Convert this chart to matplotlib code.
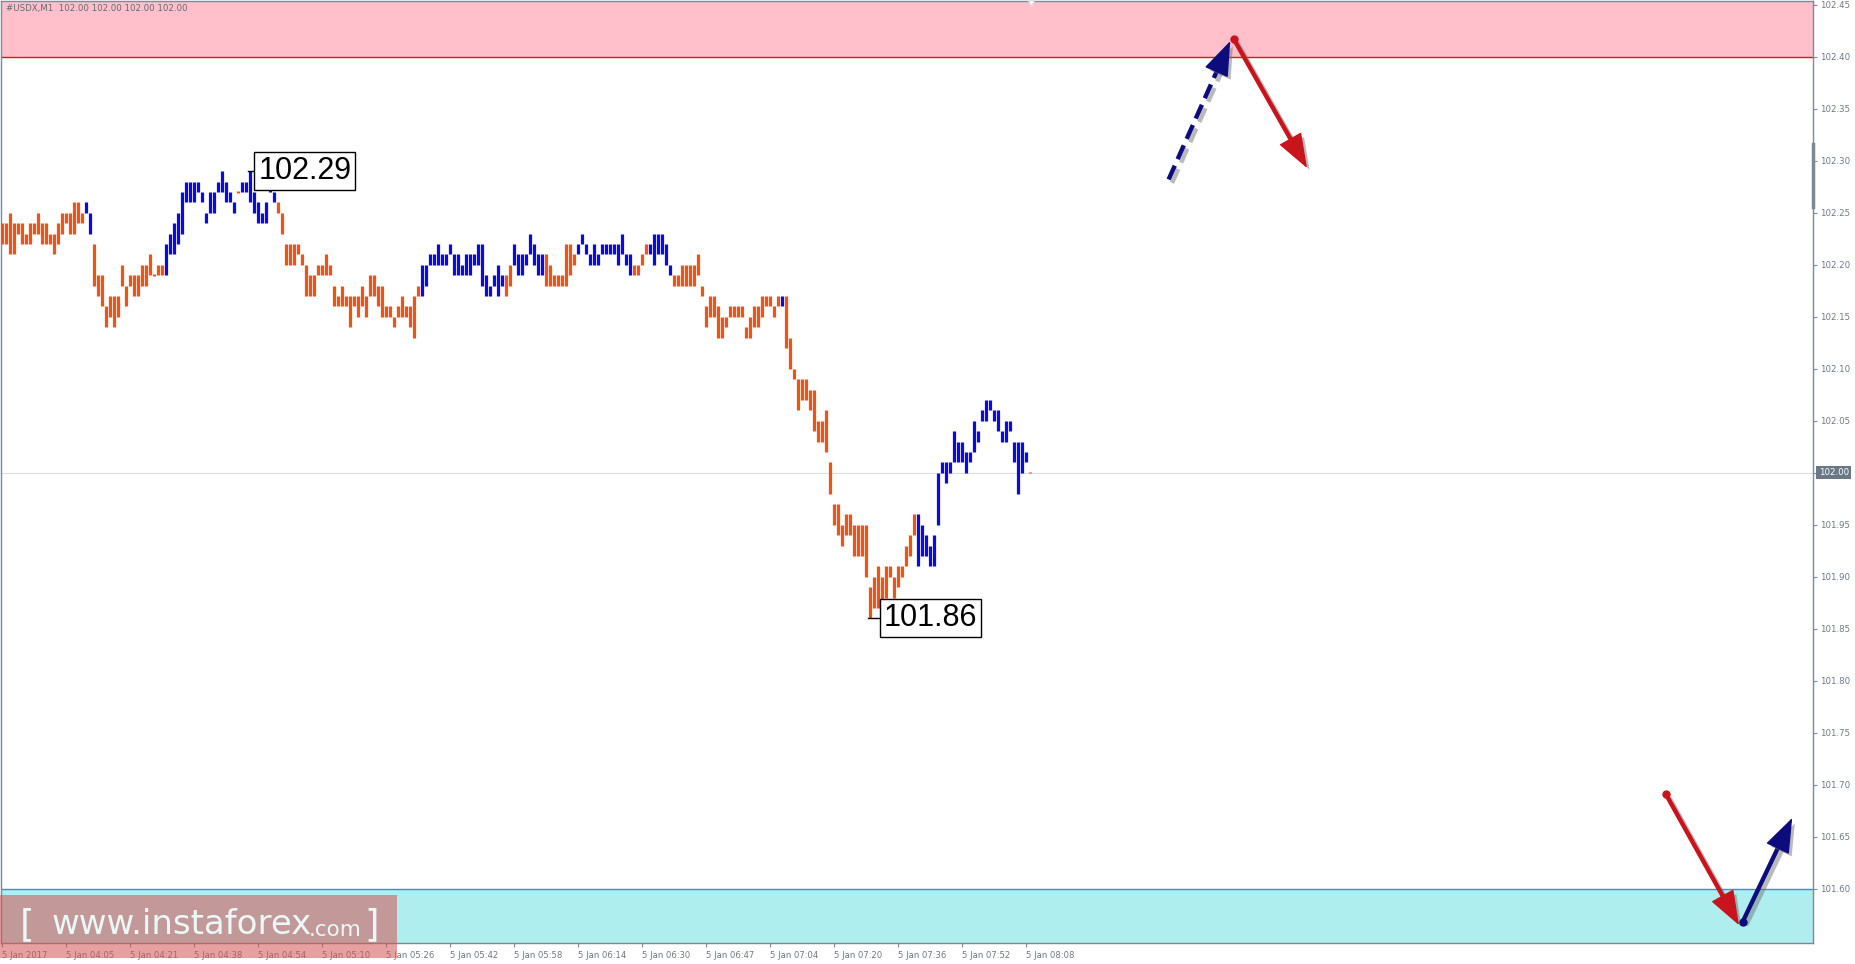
import matplotlib
matplotlib.use("Agg")
import matplotlib.pyplot as plt
import matplotlib.patheffects as pe
from matplotlib.patches import Rectangle

W, H = 1855, 964

# one-minute bars, #USDX M1, 5 Jan 2017 03:49 .. 08:09
bar_high = [
    102.24, 102.24, 102.25, 102.24, 102.24, 102.24, 102.23, 102.24, 102.24, 102.25,
    102.24, 102.24, 102.23, 102.23, 102.24, 102.25, 102.25, 102.25, 102.26, 102.26,
    102.25, 102.26, 102.25, 102.22, 102.19, 102.19, 102.16, 102.17, 102.17, 102.17,
    102.20, 102.18, 102.19, 102.19, 102.19, 102.20, 102.20, 102.21, 102.19, 102.20,
    102.20, 102.22, 102.23, 102.24, 102.25, 102.27, 102.28, 102.28, 102.28, 102.28,
    102.27, 102.25, 102.27, 102.27, 102.28, 102.29, 102.28, 102.27, 102.26, 102.27,
    102.28, 102.28, 102.29, 102.27, 102.26, 102.25, 102.26, 102.28, 102.27, 102.26,
    102.25, 102.22, 102.22, 102.22, 102.22, 102.21, 102.20, 102.19, 102.19, 102.20,
    102.20, 102.21, 102.20, 102.18, 102.17, 102.18, 102.17, 102.17, 102.17, 102.17,
    102.18, 102.17, 102.19, 102.19, 102.18, 102.18, 102.16, 102.16, 102.15, 102.16,
    102.17, 102.16, 102.16, 102.17, 102.18, 102.20, 102.20, 102.21, 102.21, 102.22,
    102.21, 102.21, 102.22, 102.21, 102.21, 102.20, 102.21, 102.21, 102.21, 102.22,
    102.22, 102.19, 102.18, 102.19, 102.20, 102.19, 102.19, 102.20, 102.22, 102.21,
    102.21, 102.21, 102.23, 102.22, 102.21, 102.21, 102.21, 102.20, 102.19, 102.19,
    102.19, 102.22, 102.22, 102.21, 102.22, 102.23, 102.22, 102.21, 102.22, 102.21,
    102.22, 102.22, 102.22, 102.22, 102.22, 102.23, 102.21, 102.21, 102.20, 102.20,
    102.21, 102.22, 102.22, 102.23, 102.23, 102.23, 102.22, 102.20, 102.19, 102.19,
    102.20, 102.20, 102.20, 102.20, 102.21, 102.18, 102.16, 102.17, 102.17, 102.16,
    102.15, 102.15, 102.16, 102.16, 102.16, 102.16, 102.14, 102.15, 102.16, 102.16,
    102.17, 102.17, 102.17, 102.16, 102.17, 102.17, 102.17, 102.13, 102.10, 102.09,
    102.09, 102.09, 102.08, 102.08, 102.05, 102.05, 102.06, 102.01, 101.97, 101.97,
    101.95, 101.96, 101.96, 101.95, 101.95, 101.95, 101.95, 101.89, 101.90, 101.91,
    101.90, 101.91, 101.91, 101.90, 101.91, 101.91, 101.93, 101.94, 101.96, 101.96,
    101.95, 101.94, 101.93, 101.94, 102.00, 102.01, 102.01, 102.01, 102.04, 102.03,
    102.03, 102.02, 102.02, 102.05, 102.04, 102.06, 102.07, 102.07, 102.06, 102.06,
    102.04, 102.05, 102.05, 102.03, 102.03, 102.03, 102.02, 102.00,
]
bar_low = [
    102.22, 102.22, 102.21, 102.21, 102.23, 102.22, 102.22, 102.22, 102.23, 102.23,
    102.22, 102.22, 102.22, 102.21, 102.22, 102.23, 102.24, 102.23, 102.23, 102.24,
    102.24, 102.25, 102.23, 102.18, 102.17, 102.16, 102.14, 102.15, 102.14, 102.15,
    102.18, 102.16, 102.18, 102.17, 102.17, 102.18, 102.18, 102.19, 102.19, 102.19,
    102.19, 102.19, 102.21, 102.21, 102.22, 102.23, 102.26, 102.26, 102.26, 102.27,
    102.26, 102.24, 102.25, 102.25, 102.27, 102.27, 102.26, 102.26, 102.25, 102.27,
    102.27, 102.27, 102.26, 102.25, 102.24, 102.24, 102.24, 102.27, 102.26, 102.25,
    102.23, 102.20, 102.20, 102.20, 102.21, 102.20, 102.17, 102.17, 102.17, 102.19,
    102.19, 102.19, 102.19, 102.16, 102.16, 102.16, 102.16, 102.14, 102.16, 102.15,
    102.16, 102.15, 102.17, 102.17, 102.16, 102.15, 102.15, 102.15, 102.14, 102.15,
    102.15, 102.15, 102.14, 102.13, 102.17, 102.17, 102.18, 102.20, 102.20, 102.20,
    102.20, 102.20, 102.21, 102.19, 102.19, 102.19, 102.19, 102.19, 102.20, 102.20,
    102.18, 102.17, 102.17, 102.18, 102.17, 102.18, 102.17, 102.18, 102.20, 102.19,
    102.19, 102.20, 102.21, 102.20, 102.19, 102.19, 102.18, 102.18, 102.18, 102.18,
    102.18, 102.18, 102.19, 102.20, 102.21, 102.22, 102.21, 102.20, 102.20, 102.20,
    102.21, 102.21, 102.21, 102.21, 102.20, 102.21, 102.20, 102.19, 102.19, 102.19,
    102.20, 102.21, 102.21, 102.20, 102.21, 102.21, 102.20, 102.19, 102.18, 102.18,
    102.18, 102.18, 102.18, 102.18, 102.19, 102.17, 102.14, 102.15, 102.15, 102.13,
    102.13, 102.14, 102.15, 102.15, 102.15, 102.15, 102.13, 102.13, 102.14, 102.14,
    102.15, 102.16, 102.16, 102.15, 102.16, 102.16, 102.12, 102.10, 102.09, 102.06,
    102.07, 102.07, 102.06, 102.04, 102.03, 102.03, 102.02, 101.98, 101.95, 101.94,
    101.93, 101.94, 101.94, 101.92, 101.92, 101.92, 101.90, 101.86, 101.87, 101.87,
    101.86, 101.88, 101.90, 101.88, 101.89, 101.90, 101.91, 101.92, 101.94, 101.91,
    101.92, 101.92, 101.91, 101.91, 101.95, 102.00, 101.99, 102.00, 102.01, 102.01,
    102.01, 102.00, 102.01, 102.02, 102.03, 102.05, 102.05, 102.06, 102.05, 102.04,
    102.03, 102.03, 102.04, 102.01, 101.98, 102.00, 102.01, 102.00,
]
# U = up bar (blue), D = down bar (orange)
bar_dir = ("D" * 21 + "U" * 2 + "D" * 18 + "U" * 18 + "D" + "U" * 9 + "D" * 36 +
           "U" * 21 + "D" * 2 + "U" * 8 + "D" * 8 + "U" * 14 + "D" * 4 + "U" * 6 +
           "D" * 27 + "U" + "D" * 33 + "U" * 28 + "D")

time_labels = ["5 Jan 2017", "5 Jan 04:05", "5 Jan 04:21", "5 Jan 04:38", "5 Jan 04:54",
               "5 Jan 05:10", "5 Jan 05:26", "5 Jan 05:42", "5 Jan 05:58", "5 Jan 06:14",
               "5 Jan 06:30", "5 Jan 06:47", "5 Jan 07:04", "5 Jan 07:20", "5 Jan 07:36",
               "5 Jan 07:52", "5 Jan 08:08"]
time_label_bars = list(range(0, 257, 16))

price_ticks = [102.45, 102.40, 102.35, 102.30, 102.25, 102.20, 102.15, 102.10, 102.05,
               102.00, 101.95, 101.90, 101.85, 101.80, 101.75, 101.70, 101.65, 101.60]
last_price = 102.00
resist_zone = (102.40, 102.46)
support_zone = (101.54, 101.60)

# marked extremes: bar index, price
marked_bars = [62, 217]
marked_prices = [102.29, 101.86]

# forecast arrows: (start bar, start price, end bar, end price)
up_arrow_dashed = (291.6, 102.282, 307.0, 102.415)
down_arrow_top = (307.9, 102.417, 326.2, 102.293)
down_arrow_bottom = (415.9, 101.691, 434.2, 101.565)
up_arrow_bottom = (435.1, 101.568, 447.5, 101.668)

up_col = "#0b0be0"
down_col = "#ee5418"
grey = "#6e7884"
navy = "#0c0c7c"
red = "#c8141c"

fig = plt.figure(figsize=(W / 100, H / 100), dpi=100)
fig.patch.set_facecolor("white")
ax = fig.add_axes([1 / W, (H - 943) / H, 1812 / W, 942 / H])
ax.set_xlim(-0.325, 452.7)
ax.set_ylim(101.5478, 102.4536)

ax.axhspan(resist_zone[0], resist_zone[1], color="#ffc0cb", lw=0, zorder=0)
ax.axhline(resist_zone[0], color="#c81e1e", lw=1.0, zorder=1)
ax.axhspan(support_zone[0], support_zone[1], color="#afeeee", lw=0, zorder=0)
ax.axhline(support_zone[1], color="#3a8fcf", lw=1.0, zorder=1)
ax.axhline(last_price, color="#dcdcf0", lw=0.8, zorder=1)

xs = list(range(len(bar_high)))
cols = [up_col if d == "U" else down_col for d in bar_dir]
lo = [l if h > l else l - 0.0007 for h, l in zip(bar_high, bar_low)]
hi = [h if h > l else h + 0.0007 for h, l in zip(bar_high, bar_low)]
ax.vlines(xs, lo, hi, colors=cols, linewidth=2.3, zorder=3)

# extreme labels
label_gap = [2.0, 3.4]
for i, p, g in zip(marked_bars, marked_prices, label_gap):
    ax.plot([i - 0.6, i + g], [p, p], color="black", lw=1, zorder=4)
    ax.text(i + g, p, f"{p:.2f}", ha="left", va="center", fontsize=22,
            family="Liberation Sans", zorder=5,
            bbox=dict(boxstyle="square,pad=0.13", fc="white", ec="black", lw=1))

shadow = [pe.SimpleLineShadow(offset=(2.5, -2.5), shadow_color="#777777", alpha=0.5), pe.Normal()]
pshadow = [pe.SimplePatchShadow(offset=(2.5, -2.5), shadow_rgbFace="#777777", alpha=0.5), pe.Normal()]


def arrow(a, color, dashed=False, dot=False):
    x0, y0, x1, y1 = a
    # shaft stops short of the tip, head drawn by annotate
    fx = x0 + (x1 - x0) * 0.84
    fy = y0 + (y1 - y0) * 0.84
    ax.plot([x0, fx], [y0, fy], color=color, lw=3.2, ls=(0, (3.4, 1.6)) if dashed else "-",
            solid_capstyle="butt", dash_capstyle="butt", path_effects=shadow, zorder=6)
    ax.annotate("", xy=(x1, y1), xytext=(x0 + (x1 - x0) * 0.78, y0 + (y1 - y0) * 0.78),
                arrowprops=dict(arrowstyle="-|>,head_length=1.5,head_width=0.55", color=color,
                                lw=1, shrinkA=0, shrinkB=0, mutation_scale=15,
                                path_effects=pshadow),
                zorder=7)
    if dot:
        ax.plot([x0], [y0], "o", color=color, ms=5, zorder=8)


arrow(up_arrow_dashed, navy, dashed=True)
arrow(down_arrow_top, red, dot=True)
arrow(down_arrow_bottom, red, dot=True)
arrow(up_arrow_bottom, navy, dot=True)

# axes frame and ticks like the terminal
for s in ax.spines.values():
    s.set_color("#7d8a96")
    s.set_linewidth(1)
ax.yaxis.tick_right()
ax.set_yticks(price_ticks)
ax.set_yticklabels([f"{t:.2f}" for t in price_ticks])
ax.tick_params(axis="y", direction="out", length=3, width=0.8, colors="#7d8a96",
               labelsize=6.2, labelcolor=grey, pad=2)
ax.set_xticks(time_label_bars)
ax.set_xticklabels([])
ax.tick_params(axis="x", direction="out", length=3, width=0.8, colors="#7d8a96")
for b, lab in zip(time_label_bars, time_labels):
    ax.annotate(lab, xy=(b, 0), xycoords=("data", "axes fraction"), xytext=(0, -9),
                textcoords="offset points", ha="left", va="center", fontsize=6.1,
                color=grey, annotation_clip=False)

# current price box on the scale
ax.annotate(f"{last_price:.2f}", xy=(1, last_price), xycoords=("axes fraction", "data"),
            xytext=(4, 0), textcoords="offset points", ha="left", va="center",
            fontsize=6.2, color="white", annotation_clip=False,
            bbox=dict(boxstyle="square,pad=0.25", fc="#6a7886", ec="none"))

# scroll marker on the price scale
fig.add_artist(plt.Line2D([1813 / W, 1813 / W], [1 - 144 / H, 1 - 207 / H], color="#7d8a96", lw=2.5))
# shift marker
ax.plot([257.3], [102.452], marker="v", color="white", ms=5, mec="#dddddd", zorder=8, clip_on=False)

fig.text(6 / W, 1 - 9 / H, "#USDX,M1  102.00 102.00 102.00 102.00", fontsize=6.2,
         color="#606a74", ha="left", va="center")

# watermark
fig.add_artist(Rectangle((0, 1 - 958 / H), 397 / W, 63 / H, transform=fig.transFigure,
                         fc="#d55252", alpha=0.55, ec="none", zorder=10))
wm = "#eaf8f8"
fig.text(20 / W, 1 - 925 / H, "[", fontsize=27, color=wm, ha="left", va="center", zorder=11)
fig.text(52 / W, 1 - 925 / H, "www.instaforex", fontsize=24.5, color=wm, ha="left", va="center", zorder=11)
fig.text(309 / W, 1 - 930 / H, ".com", fontsize=15.5, color=wm, ha="left", va="center", zorder=11)
fig.text(364 / W, 1 - 925 / H, "]", fontsize=27, color=wm, ha="left", va="center", zorder=11)

fig.savefig("out.png", dpi=100)
